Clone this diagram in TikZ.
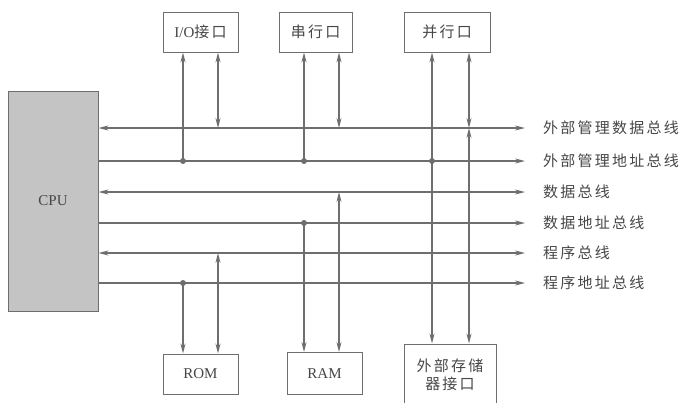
\documentclass[tikz,border=0pt]{standalone}
\usepackage{fontspec}
\setmainfont{Liberation Serif}
\newfontfamily\cjk[LetterSpace=15]{Noto Sans CJK SC}
\usetikzlibrary{arrows.meta}
\definecolor{lc}{RGB}{110,110,110}
\definecolor{tc}{RGB}{70,70,70}
\definecolor{cpufill}{RGB}{196,196,196}
\begin{document}
\begin{tikzpicture}[x=1pt,y=-1pt,
  bus/.style={draw=lc,line width=1.3pt},
  arr/.style={bus,-{Stealth[length=10pt,width=5pt]}},
  darr/.style={bus,{Stealth[length=10pt,width=5pt]}-{Stealth[length=10pt,width=5pt]}},
  box/.style={draw=lc,line width=1pt,fill=white,text=tc,inner sep=0pt,align=center,
    font={\fontsize{15}{19}\selectfont}},
  lab/.style={anchor=west,text=tc,inner sep=0pt,font={\fontsize{15}{16}\selectfont\cjk}},
  dot/.style={circle,fill=lc,inner sep=0pt,minimum size=6pt}]
\useasboundingbox (0,0) rectangle (686,402);
% CPU
\node[draw=lc,line width=1pt,fill=cpufill,minimum width=90pt,minimum height=220pt,inner sep=0pt,
  text=tc,font={\fontsize{15}{17}\selectfont}] (cpu) at (53,201) {CPU};
% top boxes
\node[box,minimum width=75pt,minimum height=40pt] (io) at (200.5,32) {I/O{\cjk 接口}};
\node[box,minimum width=73pt,minimum height=40pt] (ser) at (315.5,32) {{\cjk 串行口}};
\node[box,minimum width=86pt,minimum height=40pt] (par) at (447,32) {{\cjk 并行口}};
% bottom boxes
\node[box,minimum width=75pt,minimum height=40pt] (rom) at (200.5,374) {ROM};
\node[box,minimum width=75pt,minimum height=42pt] (ram) at (324.5,373.5) {RAM};
\node[box,minimum width=92pt,minimum height=62pt] (ext) at (450,375) {{\cjk 外部存储}\\[-1pt]{\cjk 器接口}};
% labels
\node[lab] (l1) at (543,128) {外部管理数据总线};
\node[lab] (l2) at (543,161) {外部管理地址总线};
\node[lab] (l3) at (543,192) {数据总线};
\node[lab] (l4) at (543,223) {数据地址总线};
\node[lab] (l5) at (543,253) {程序总线};
\node[lab] (l6) at (543,283) {程序地址总线};
% bus ends
\coordinate (e1) at (525,128);
\coordinate (e2) at (525,161);
\coordinate (e3) at (525,192);
\coordinate (e4) at (525,223);
\coordinate (e5) at (525,253);
\coordinate (e6) at (525,283);
\draw[darr] (cpu.east |- e1) -- (e1);
\draw[arr]  (cpu.east |- e2) -- (e2);
\draw[darr] (cpu.east |- e3) -- (e3);
\draw[arr]  (cpu.east |- e4) -- (e4);
\draw[darr] (cpu.east |- e5) -- (e5);
\draw[arr]  (cpu.east |- e6) -- (e6);
% junction dots
\node[dot] (d1) at (183,161) {};
\node[dot] (d2) at (304,161) {};
\node[dot] (d3) at (432,161) {};
\node[dot] (d4) at (304,223) {};
\node[dot] (d5) at (183,283) {};
% junction coordinates on buses
\coordinate (j1) at (218,128);
\coordinate (j2) at (339,128);
\coordinate (j3) at (469,128);
\coordinate (j4) at (339,192);
\coordinate (j5) at (218,253);
% I/O
\draw[arr] (d1.center) -- (d1 |- io.south);
\draw[darr] (j1 |- io.south) -- (j1);
% serial
\draw[arr] (d2.center) -- (d2 |- ser.south);
\draw[darr] (j2 |- ser.south) -- (j2);
% parallel / external
\draw[arr] (d3.center) -- (d3 |- par.south);
\draw[arr] (d3.center) -- (d3 |- ext.north);
\draw[darr] (j3 |- par.south) -- (j3);
\draw[darr] (j3) -- (j3 |- ext.north);
% ROM
\draw[arr] (d5.center) -- (d5 |- rom.north);
\draw[darr] (j5) -- (j5 |- rom.north);
% RAM
\draw[arr] (d4.center) -- (d4 |- ram.north);
\draw[darr] (j4) -- (j4 |- ram.north);
\end{tikzpicture}
\end{document}
